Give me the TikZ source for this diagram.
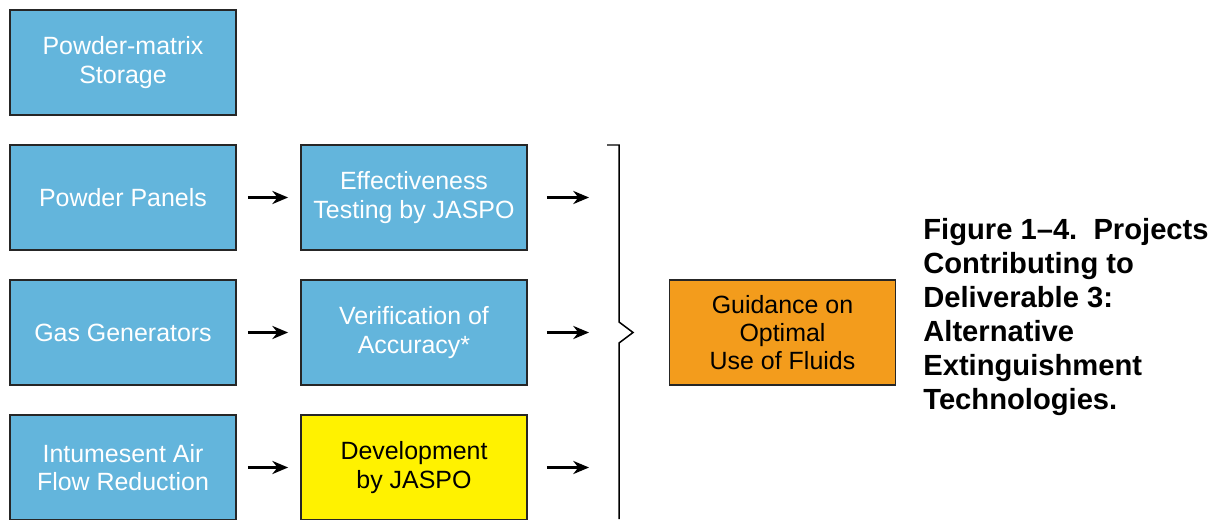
\documentclass[tikz,border=0pt]{standalone}
\usepackage{fontspec}
\setmainfont{Liberation Sans}
\usetikzlibrary{arrows.meta, positioning}
\definecolor{boxblue}{RGB}{99,181,220}
\definecolor{boxorange}{RGB}{243,156,28}
\definecolor{boxyellow}{RGB}{255,242,0}

\begin{document}
\begin{tikzpicture}[
    x=0.02cm, y=-0.02cm,
    block/.style={draw=black!85, line width=1.1pt, fill=#1,
                  minimum width=4.52cm, minimum height=2.1cm, inner sep=2pt,
                  align=center, font=\fontsize{14.2}{16}\selectfont},
    arr/.style={-{Stealth[length=9pt, width=7.5pt]}, line width=1.25pt},
    caption/.style={font=\bfseries\fontsize{16.6}{19.3}\selectfont,
                    align=left, inner sep=0pt, anchor=north west}
  ]
    \useasboundingbox (0,0) rectangle (1217,520);

    %% LEFT COLUMN
    \node[block=boxblue, text=white] (storage) at (123,62.5)
      {Powder-matrix\\Storage};
    \node[block=boxblue, text=white] (panels) at (123,197.5)
      {Powder Panels};
    \node[block=boxblue, text=white] (gasgen) at (123,332.5)
      {Gas Generators};
    \node[block=boxblue, text=white] (intum) at (123,467.5)
      {Intumesent Air\\Flow Reduction};

    %% MIDDLE COLUMN
    \node[block=boxblue, text=white] (effect) at (414,197.5)
      {Effectiveness\\Testing by JASPO};
    \node[block=boxblue, text=white] (verif) at (414,332.5)
      {Verification of\\Accuracy*};
    \node[block=boxyellow] (devel) at (414,467.5)
      {Development\\by JASPO};

    %% RESULT BOX
    \node[block=boxorange] (guide) at (782.5,332.5)
      {Guidance on\\Optimal\\Use of Fluids};

    %% BRACE
    \draw[line width=0.85pt] (607,145) -- (619,145) -- (619,322)
      -- (633,332.5) -- (619,343) -- (619,519);
    \coordinate (effend) at (589,197.5);
    \coordinate (verend) at (589,332.5);
    \coordinate (devend) at (589,467.5);

    %% ARROWS
    \draw[arr, shorten <=6.2pt, shorten >=6.8pt] (panels) -- (effect);
    \draw[arr, shorten <=6.2pt, shorten >=6.8pt] (gasgen) -- (verif);
    \draw[arr, shorten <=6.2pt, shorten >=6.8pt] (intum) -- (devel);
    \draw[arr, shorten <=10.8pt] (effect) -- (effend);
    \draw[arr, shorten <=10.8pt] (verif) -- (verend);
    \draw[arr, shorten <=10.8pt] (devel) -- (devend);

    %% CAPTION
    \node[caption] (figcap) at (923,218)
      {Figure 1--4.\ \ Projects\\Contributing to\\Deliverable 3:\\
       Alternative\\Extinguishment\\Technologies.};
  \end{tikzpicture}
\end{document}
